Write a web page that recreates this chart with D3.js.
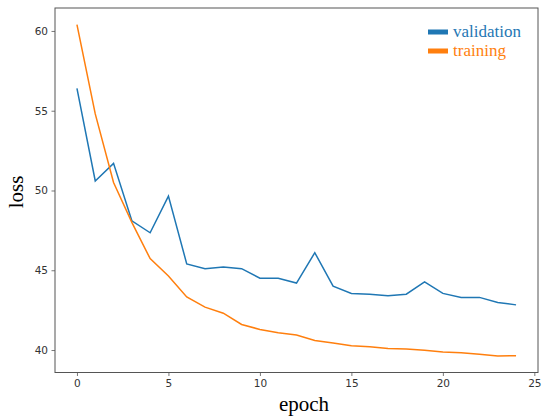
<!DOCTYPE html>
<html><head><meta charset="utf-8">
<script src="https://cdn.jsdelivr.net/npm/d3@7"></script>
<style>body{margin:0;background:#fff}</style>
</head><body>
<svg id="c" width="550" height="420"></svg>
<script>
const epochs = d3.range(0, 25);
const validation = [56.4, 50.6, 51.7, 48.1, 47.35, 49.65, 45.4, 45.1, 45.2, 45.1, 44.5, 44.5, 44.2, 46.1, 44.0, 43.55, 43.5, 43.4, 43.5, 44.27, 43.55, 43.3, 43.3, 42.98, 42.83];
const training = [60.4, 54.8, 50.5, 48.0, 45.73, 44.64, 43.33, 42.69, 42.31, 41.6, 41.29, 41.08, 40.94, 40.6, 40.44, 40.27, 40.21, 40.1, 40.06, 39.98, 39.88, 39.83, 39.73, 39.63, 39.64];
const xTicks = [0, 5, 10, 15, 20, 25];
const yTicks = [40, 45, 50, 55, 60];
const seriesNames = ["validation", "training"];
const colors = ["#1f77b4", "#ff7f0e"];

const svg = d3.select("#c");
const L = 55, R = 538, T = 8, B = 372.5;
const x = d3.scaleLinear().domain([-1.2, 25.2]).range([L, R]);
const allY = validation.concat(training);
const yMin = d3.min(allY), yMax = d3.max(allY), pad = (yMax - yMin) * 0.05;
const y = d3.scaleLinear().domain([yMin - pad, yMax + pad]).range([B, T]);

const gx = svg.append("g").attr("transform", `translate(0,${B})`)
  .call(d3.axisBottom(x).tickValues(xTicks).tickSize(3.5).tickPadding(3.5));
const gy = svg.append("g").attr("transform", `translate(${L},0)`)
  .call(d3.axisLeft(y).tickValues(yTicks).tickSize(3.5).tickPadding(3.5));
[gx, gy].forEach(g => {
  g.select(".domain").remove();
  g.selectAll("line").attr("stroke", "#555").attr("stroke-width", 0.8);
  g.selectAll("text").attr("font-family", "DejaVu Sans").attr("font-size", 10.5).attr("fill", "#333");
});

svg.append("rect").attr("x", L).attr("y", T).attr("width", R - L).attr("height", B - T)
  .attr("fill", "none").attr("stroke", "#555").attr("stroke-width", 1);

const line = d3.line().x((d, i) => x(epochs[i])).y(d => y(d));
[validation, training].forEach((s, k) => {
  svg.append("path").datum(s).attr("d", line).attr("fill", "none")
    .attr("stroke", colors[k]).attr("stroke-width", 1.5).attr("stroke-linejoin", "miter");
});

// legend
seriesNames.forEach((n, k) => {
  const yy = 32 + k * 19;
  svg.append("rect").attr("x", 428).attr("y", yy - 2.5).attr("width", 20).attr("height", 5).attr("fill", colors[k]);
  svg.append("text").attr("x", 453).attr("y", yy + 5).text(n)
    .attr("font-family", "Liberation Serif").attr("font-size", 17).attr("fill", colors[k]);
});

svg.append("text").attr("x", 304).attr("y", 411).attr("text-anchor", "middle").text("epoch")
  .attr("font-family", "Liberation Serif").attr("font-size", 21).attr("fill", "#000");
svg.append("text").attr("transform", "translate(23,192) rotate(-90)").attr("text-anchor", "middle").text("loss")
  .attr("font-family", "Liberation Serif").attr("font-size", 21).attr("fill", "#000");
</script>
</body></html>
